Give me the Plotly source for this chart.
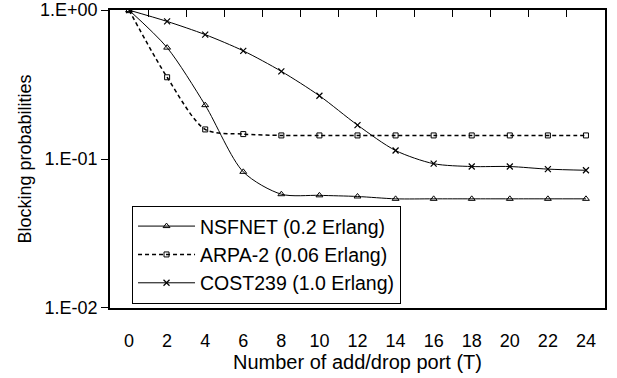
import plotly.graph_objects as go

ports = [0, 2, 4, 6, 8, 10, 12, 14, 16, 18, 20, 22, 24]
nsfnet = [1.0, 0.56, 0.23, 0.082, 0.058, 0.057, 0.056, 0.054, 0.054, 0.054, 0.054, 0.054, 0.054]
arpa2 = [1.0, 0.354, 0.158, 0.147, 0.144, 0.144, 0.144, 0.144, 0.144, 0.144, 0.144, 0.144, 0.144]
cost239 = [1.0, 0.84, 0.685, 0.533, 0.388, 0.266, 0.169, 0.114, 0.093, 0.089, 0.089, 0.0855, 0.084]
names = ["NSFNET (0.2 Erlang)", "ARPA-2 (0.06 Erlang)", "COST239 (1.0 Erlang)"]
y_ticks = [1, 0.1, 0.01]
y_tick_text = ["1.E+00", "1.E-01", "1.E-02"]
boundaries = [1, 3, 5, 7, 9, 11, 13, 15, 17, 19, 21, 23]

FONT = "Liberation Sans, Arial, sans-serif"

fig = go.Figure()
fig.add_trace(go.Scatter(
    x=ports, y=nsfnet, name=names[0], mode="lines+markers",
    line=dict(color="black", width=1, shape="spline", smoothing=0.8),
    marker=dict(symbol="triangle-up-open", size=6, color="black", line=dict(width=1))))
fig.add_trace(go.Scatter(
    x=ports, y=arpa2, name=names[1], mode="lines+markers",
    line=dict(color="black", width=1.5, dash="4px,3px", shape="spline", smoothing=0.8),
    marker=dict(symbol="square-open", size=5, color="black", line=dict(width=1))))
fig.add_trace(go.Scatter(
    x=ports, y=cost239, name=names[2], mode="lines+markers",
    line=dict(color="black", width=1, shape="spline", smoothing=0.8),
    marker=dict(symbol="x-thin-open", size=6, color="black", line=dict(width=1.2))))
# invisible trace for top category-boundary ticks
fig.add_trace(go.Scatter(x=[ports[0], ports[-1]], y=[1, 1], xaxis="x2", mode="lines",
                         line=dict(width=0), showlegend=False, hoverinfo="skip"))

fig.update_layout(
    template="none",
    width=617, height=378,
    margin=dict(l=110, r=12, t=10, b=70, autoexpand=False),
    paper_bgcolor="white", plot_bgcolor="white",
    font=dict(family=FONT, size=18, color="black"),
    showlegend=True,
    legend=dict(x=0.0445, y=0.0137, xanchor="left", yanchor="bottom",
                bgcolor="white", bordercolor="black", borderwidth=1,
                font=dict(size=19.5, family=FONT), tracegroupgap=0,
                itemwidth=57),
    xaxis=dict(range=[-1, 25], tickvals=ports, ticktext=[str(p) for p in ports],
               automargin=False,
               showgrid=False, zeroline=False, showline=True, linecolor="black", linewidth=1.5,
               ticks="outside", ticklen=0, ticklabelstandoff=16,
               tickfont=dict(size=18),
               title=dict(text="Number of add/drop port (T)", font=dict(size=20), standoff=4)),
    xaxis2=dict(range=[-1, 25], overlaying="x", side="top", tickvals=boundaries,
                automargin=False,
                showticklabels=False, ticks="inside", ticklen=7, tickcolor="black", tickwidth=1,
                showgrid=False, zeroline=False, showline=True, linecolor="black", linewidth=1.5,
                anchor="y"),
    yaxis=dict(type="log", range=[-2.001, 0.001], tickvals=y_ticks, ticktext=y_tick_text,
               automargin=False, ticklabeloverflow="allow",
               showgrid=False, zeroline=False, showline=True, linecolor="black", linewidth=1.5,
               mirror=True, ticks="outside", ticklen=7, tickcolor="black",
               tickfont=dict(size=18),
               title=dict(text="Blocking probabilities", font=dict(size=18), standoff=4)),
)

fig.write_html("out.html", config={"displayModeBar": False},
               post_script="document.body.style.margin='0';")
